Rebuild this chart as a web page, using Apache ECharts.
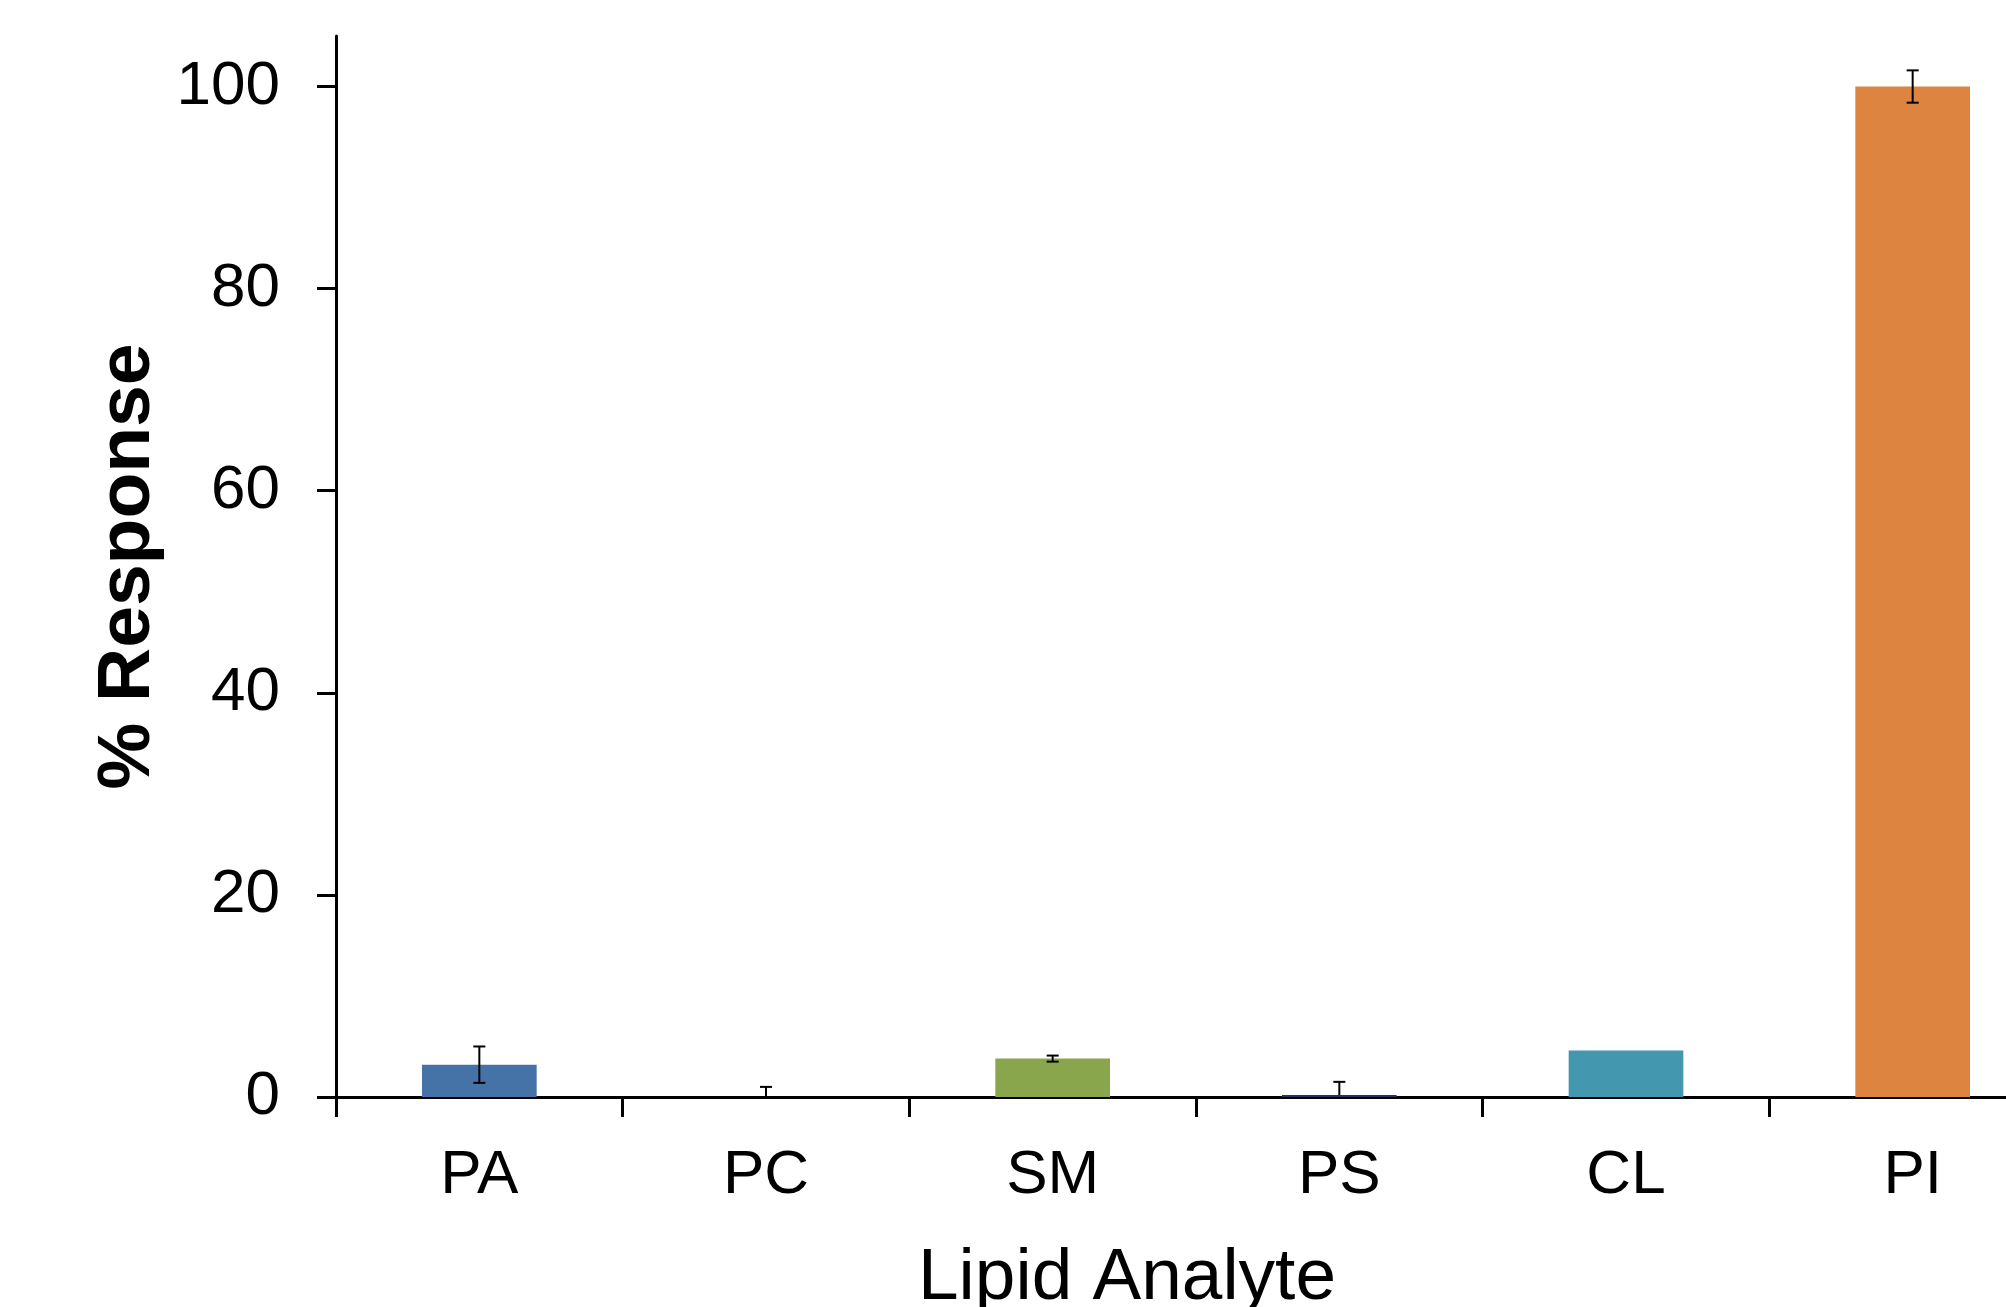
<!DOCTYPE html>
<html>
<head>
<meta charset="utf-8">
<script src="https://cdn.jsdelivr.net/npm/echarts@6/dist/echarts.min.js"></script>
<style>
    html, body { margin: 0; padding: 0; overflow: hidden; background: #fff; }
    #chart { width: 2056px; height: 1307px; }
</style>
</head>
<body>
<div id="chart"></div>
<script>
// 数据
var categories = ['PA', 'PC', 'SM', 'PS', 'CL', 'PI'];
var responses = [3.2, -0.2, 3.8, 0.2, 4.6, 100];
var errPlus = [1.8, 1.2, 0.3, 1.3, 0, 1.6];
var errMinus = [1.8, 0, 0.3, 0, 0, 1.6];
var barColors = ['#4572a7', '#8b1c1c', '#8aa64c', '#26305f', '#4398b0', '#dc8440'];
var yTicks = [0, 20, 40, 60, 80, 100];

;(function(){
    var chart = echarts.init(document.getElementById('chart'));
    var font = 'Liberation Sans, Arial, sans-serif';

    var barData = responses.map(function (v, i) {
        return { value: v, itemStyle: { color: barColors[i] } };
    });
    var errData = responses.map(function (v, i) {
        return [i, v - errMinus[i], v + errPlus[i], v];
    });

    var option = {
        animation: false,
        grid: {
            top: 36,
            bottom: 210,
            left: 336,
            right: 0
        },
        xAxis: {
            type: 'category',
            data: categories,
            axisLine: { show: true, lineStyle: { color: '#000', width: 3 } },
            axisTick: { show: true, interval: 0, length: 20, lineStyle: { color: '#000', width: 3 } },
            axisLabel: { color: '#000', fontSize: 62, fontFamily: font, margin: 48, interval: 0 },
            splitLine: { show: false }
        },
        yAxis: {
            type: 'value',
            min: 0,
            max: 105,
            interval: 20,
            name: '% Response',
            nameLocation: 'middle',
            nameGap: 168,
            nameTextStyle: { color: '#000', fontSize: 75, fontWeight: 'bold', fontFamily: font },
            axisLine: { show: true, lineStyle: { color: '#000', width: 3 } },
            axisTick: { show: true, length: 19, customValues: yTicks, lineStyle: { color: '#000', width: 3 } },
            axisLabel: { color: '#000', fontSize: 62, fontFamily: font, margin: 56, customValues: yTicks },
            splitLine: { show: false }
        },
        graphic: [{
            type: 'text',
            left: 918,
            top: 1242,
            style: {
                text: 'Lipid Analyte',
                fill: '#000',
                font: '73px ' + font
            }
        }],
        series: [{
            type: 'bar',
            data: barData,
            barWidth: '40%'
        }, {
            type: 'custom',
            data: errData,
            z: 5,
            renderItem: function (params, api) {
                var x = api.value(0);
                var lo = api.value(1), hi = api.value(2), mid = api.value(3);
                var pLo = api.coord([x, lo]);
                var pHi = api.coord([x, hi]);
                var half = 6;
                var style = { stroke: '#000', lineWidth: 2 };
                var children = [];
                if (hi === lo) return { type: 'group', children: [] };
                children.push({ type: 'line', shape: { x1: pLo[0], y1: pLo[1], x2: pHi[0], y2: pHi[1] }, style: style });
                if (hi > mid) {
                    children.push({ type: 'line', shape: { x1: pHi[0] - half, y1: pHi[1], x2: pHi[0] + half, y2: pHi[1] }, style: style });
                }
                if (lo < mid) {
                    children.push({ type: 'line', shape: { x1: pLo[0] - half, y1: pLo[1], x2: pLo[0] + half, y2: pLo[1] }, style: style });
                }
                return { type: 'group', children: children };
            }
        }]
    };

    chart.setOption(option);
})()
</script>
</body>
</html>
